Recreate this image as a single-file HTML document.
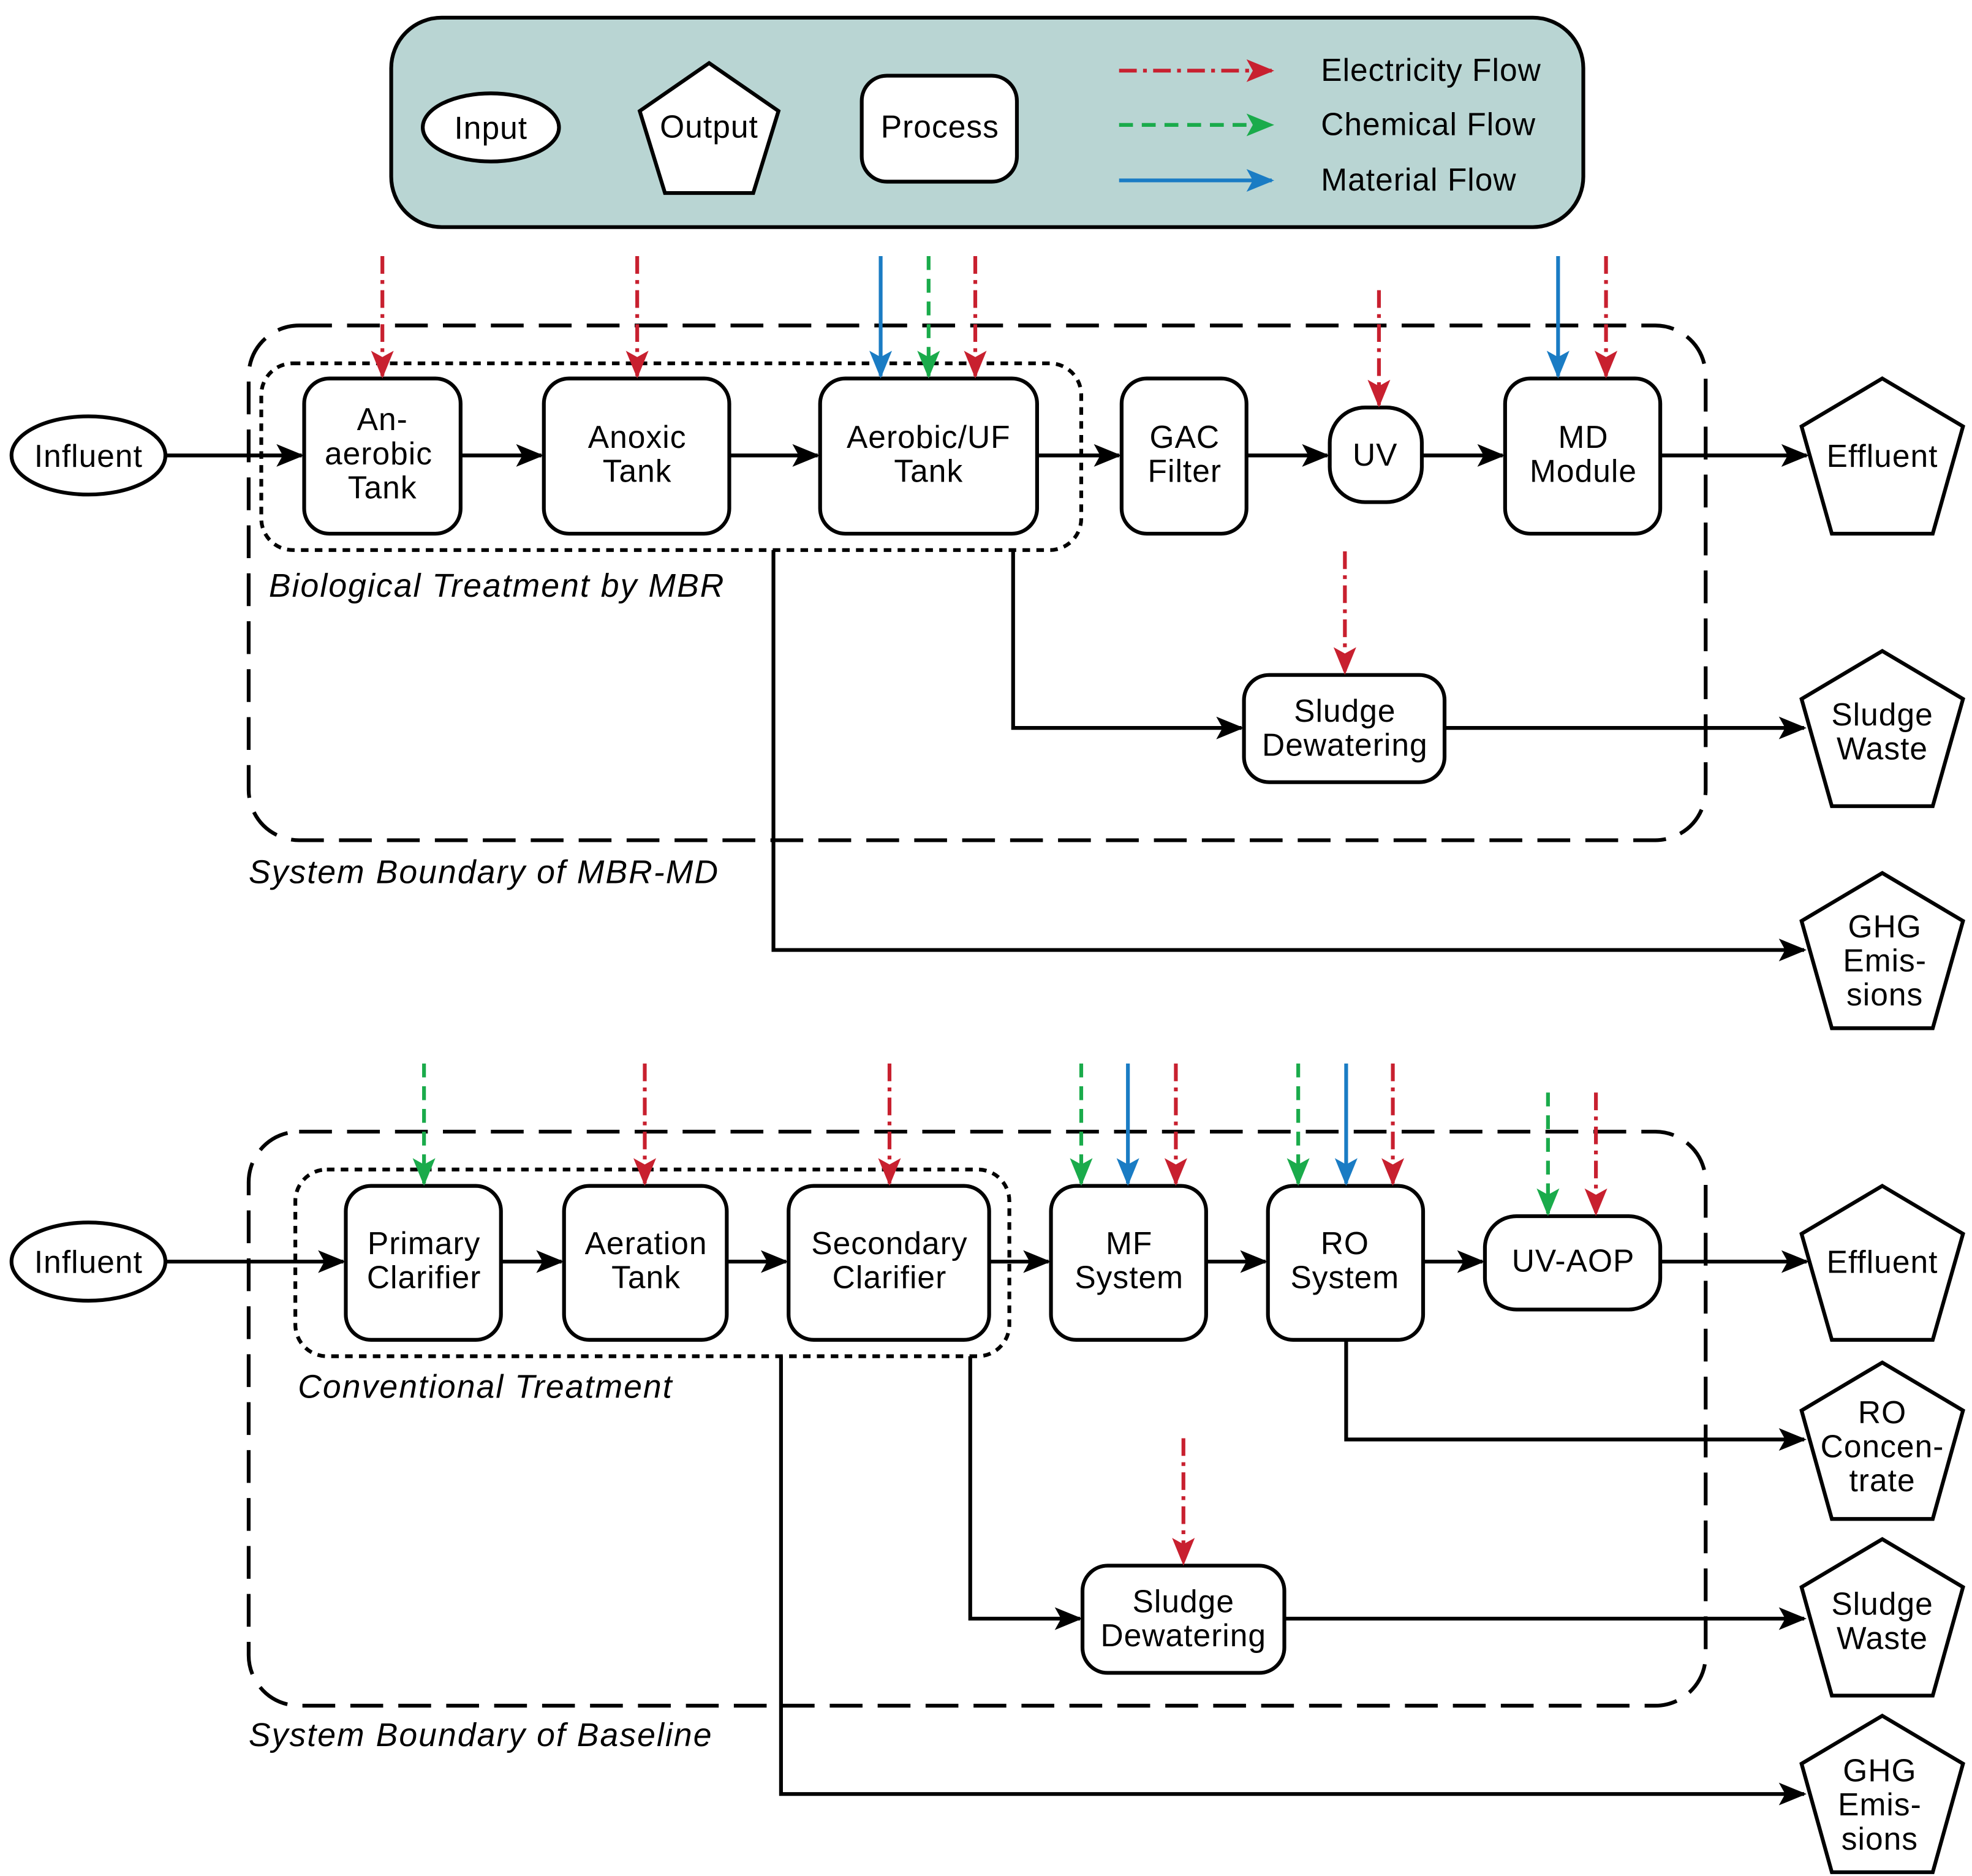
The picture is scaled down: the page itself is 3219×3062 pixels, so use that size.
<!DOCTYPE html>
<html><head><meta charset="utf-8"><style>html,body{margin:0;padding:0;background:#fff}svg{display:block}</style></head>
<body>
<svg xmlns="http://www.w3.org/2000/svg" width="3219" height="3062" viewBox="0 0 1563 1487" font-family="'Liberation Sans', Arial, sans-serif" font-size="25">
<defs>
<marker id="ak" markerUnits="userSpaceOnUse" markerWidth="24" markerHeight="20" refX="20" refY="9" orient="auto"><path d="M0,0 L22,9 L0,18 L5,9 Z" fill="#000"/></marker>
<marker id="ar" markerUnits="userSpaceOnUse" markerWidth="24" markerHeight="20" refX="20" refY="9" orient="auto"><path d="M0,0 L22,9 L0,18 L5,9 Z" fill="#c8202f"/></marker>
<marker id="ag" markerUnits="userSpaceOnUse" markerWidth="24" markerHeight="20" refX="20" refY="9" orient="auto"><path d="M0,0 L22,9 L0,18 L5,9 Z" fill="#1aab4b"/></marker>
<marker id="ab" markerUnits="userSpaceOnUse" markerWidth="24" markerHeight="20" refX="20" refY="9" orient="auto"><path d="M0,0 L22,9 L0,18 L5,9 Z" fill="#1a7cc4"/></marker>
</defs>
<style>
.bx{fill:#fff;stroke:#000;stroke-width:3}
.ln{fill:none;stroke:#000;stroke-width:3;marker-end:url(#ak)}
.r{stroke:#c8202f;stroke-width:3;stroke-dasharray:14,5,3,5;marker-end:url(#ar)}
.g{stroke:#1aab4b;stroke-width:3;stroke-dasharray:11,7;marker-end:url(#ag)}
.b{stroke:#1a7cc4;stroke-width:3;marker-end:url(#ab)}
.ob{fill:none;stroke:#000;stroke-width:3;stroke-dasharray:26,12}
.ib{fill:none;stroke:#000;stroke-width:3;stroke-dasharray:6,5}
text{text-anchor:middle;letter-spacing:0.5px}
.it{font-style:italic;text-anchor:start;font-size:26px;letter-spacing:1px}
</style>

<rect x="310" y="14" width="945" height="166" rx="40" fill="#b9d5d3" stroke="#000" stroke-width="3"/>
<ellipse cx="389" cy="101" rx="54" ry="27" class="bx"/><text x="389" y="110">Input</text>
<polygon points="562,50 617,88 597,153 527,153 507,88" class="bx"/><text x="562" y="109">Output</text>
<rect x="683" y="60" width="123" height="84" rx="20" class="bx"/><text x="745" y="109">Process</text>
<line x1="887" y1="56" x2="1008" y2="56" class="r"/>
<line x1="887" y1="99" x2="1008" y2="99" class="g"/>
<line x1="887" y1="143" x2="1008" y2="143" class="b"/>
<text x="1047" y="64" style="text-anchor:start">Electricity Flow</text>
<text x="1047" y="107" style="text-anchor:start">Chemical Flow</text>
<text x="1047" y="151" style="text-anchor:start">Material Flow</text>

<rect x="197" y="258" width="1155" height="408" rx="40" class="ob"/>
<rect x="207" y="288" width="650" height="148" rx="25" class="ib"/>
<text x="213" y="473" class="it">Biological Treatment by MBR</text>
<text x="197" y="700" class="it">System Boundary of MBR-MD</text>

<polyline points="613,436 613,753 1430,753" class="ln"/>
<polyline points="803,436 803,577 984,577" class="ln"/>
<line x1="1145" y1="577" x2="1430" y2="577" class="ln"/>
<line x1="131" y1="361" x2="239" y2="361" class="ln"/>
<line x1="365" y1="361" x2="429" y2="361" class="ln"/>
<line x1="578" y1="361" x2="648" y2="361" class="ln"/>
<line x1="822" y1="361" x2="887" y2="361" class="ln"/>
<line x1="988" y1="361" x2="1052" y2="361" class="ln"/>
<line x1="1127" y1="361" x2="1191" y2="361" class="ln"/>
<line x1="1316" y1="361" x2="1432" y2="361" class="ln"/>

<ellipse cx="70" cy="361" rx="61" ry="31" class="bx"/><text x="70" y="370">Influent</text>
<rect x="241" y="300" width="124" height="123" rx="20" class="bx"/><text x="303" y="341">An-</text><text x="300" y="368">aerobic</text><text x="303" y="395">Tank</text>
<rect x="431" y="300" width="147" height="123" rx="20" class="bx"/><text x="505" y="355">Anoxic</text><text x="505" y="382">Tank</text>
<rect x="650" y="300" width="172" height="123" rx="20" class="bx"/><text x="736" y="355">Aerobic/UF</text><text x="736" y="382">Tank</text>
<rect x="889" y="300" width="99" height="123" rx="20" class="bx"/><text x="939" y="355">GAC</text><text x="939" y="382">Filter</text>
<rect x="1054" y="323" width="73" height="75" rx="28" class="bx"/><text x="1090" y="369">UV</text>
<rect x="1193" y="300" width="123" height="123" rx="20" class="bx"/><text x="1255" y="355">MD</text><text x="1255" y="382">Module</text>
<rect x="986" y="535" width="159" height="85" rx="20" class="bx"/><text x="1066" y="572">Sludge</text><text x="1066" y="599">Dewatering</text>
<polygon points="1492,300 1556,338 1532,423 1452,423 1428,338" class="bx"/><text x="1492" y="370">Effluent</text>
<polygon points="1492,516 1556,554 1532,639 1452,639 1428,554" class="bx"/><text x="1492" y="575">Sludge</text><text x="1492" y="602">Waste</text>
<polygon points="1492,692 1556,730 1532,815 1452,815 1428,730" class="bx"/><text x="1494" y="743">GHG</text><text x="1494" y="770">Emis-</text><text x="1494" y="797">sions</text>

<line x1="303" y1="203" x2="303" y2="298" class="r"/>
<line x1="505" y1="203" x2="505" y2="298" class="r"/>
<line x1="698" y1="203" x2="698" y2="298" class="b"/>
<line x1="736" y1="203" x2="736" y2="298" class="g"/>
<line x1="773" y1="203" x2="773" y2="298" class="r"/>
<line x1="1093" y1="230" x2="1093" y2="321" class="r"/>
<line x1="1235" y1="203" x2="1235" y2="298" class="b"/>
<line x1="1273" y1="203" x2="1273" y2="298" class="r"/>
<line x1="1066" y1="437" x2="1066" y2="533" class="r"/>

<rect x="197" y="897" width="1155" height="455" rx="40" class="ob"/>
<rect x="234" y="927" width="566" height="148" rx="25" class="ib"/>
<text x="236" y="1108" class="it">Conventional Treatment</text>
<text x="197" y="1384" class="it">System Boundary of Baseline</text>

<polyline points="619,1075 619,1422 1430,1422" class="ln"/>
<polyline points="769,1075 769,1283 856,1283" class="ln"/>
<line x1="1018" y1="1283" x2="1430" y2="1283" class="ln"/>
<polyline points="1067,1062 1067,1141 1430,1141" class="ln"/>
<line x1="131" y1="1000" x2="272" y2="1000" class="ln"/>
<line x1="397" y1="1000" x2="445" y2="1000" class="ln"/>
<line x1="576" y1="1000" x2="623" y2="1000" class="ln"/>
<line x1="784" y1="1000" x2="831" y2="1000" class="ln"/>
<line x1="956" y1="1000" x2="1003" y2="1000" class="ln"/>
<line x1="1128" y1="1000" x2="1175" y2="1000" class="ln"/>
<line x1="1316" y1="1000" x2="1432" y2="1000" class="ln"/>

<ellipse cx="70" cy="1000" rx="61" ry="31" class="bx"/><text x="70" y="1009">Influent</text>
<rect x="274" y="940" width="123" height="122" rx="20" class="bx"/><text x="336" y="994">Primary</text><text x="336" y="1021">Clarifier</text>
<rect x="447" y="940" width="129" height="122" rx="20" class="bx"/><text x="512" y="994">Aeration</text><text x="512" y="1021">Tank</text>
<rect x="625" y="940" width="159" height="122" rx="20" class="bx"/><text x="705" y="994">Secondary</text><text x="705" y="1021">Clarifier</text>
<rect x="833" y="940" width="123" height="122" rx="20" class="bx"/><text x="895" y="994">MF</text><text x="895" y="1021">System</text>
<rect x="1005" y="940" width="123" height="122" rx="20" class="bx"/><text x="1066" y="994">RO</text><text x="1066" y="1021">System</text>
<rect x="1177" y="964" width="139" height="74" rx="25" class="bx"/><text x="1247" y="1008">UV-AOP</text>
<rect x="858" y="1241" width="160" height="85" rx="20" class="bx"/><text x="938" y="1278">Sludge</text><text x="938" y="1305">Dewatering</text>
<polygon points="1492,940 1556,978 1532,1062 1452,1062 1428,978" class="bx"/><text x="1492" y="1009">Effluent</text>
<polygon points="1492,1080 1556,1118 1532,1204 1452,1204 1428,1118" class="bx"/><text x="1492" y="1128">RO</text><text x="1492" y="1155">Concen-</text><text x="1492" y="1182">trate</text>
<polygon points="1492,1220 1556,1258 1532,1344 1452,1344 1428,1258" class="bx"/><text x="1492" y="1280">Sludge</text><text x="1492" y="1307">Waste</text>
<polygon points="1492,1360 1556,1398 1532,1484 1452,1484 1428,1398" class="bx"/><text x="1490" y="1412">GHG</text><text x="1490" y="1439">Emis-</text><text x="1490" y="1466">sions</text>

<line x1="336" y1="843" x2="336" y2="938" class="g"/>
<line x1="511" y1="843" x2="511" y2="938" class="r"/>
<line x1="705" y1="843" x2="705" y2="938" class="r"/>
<line x1="857" y1="843" x2="857" y2="938" class="g"/>
<line x1="894" y1="843" x2="894" y2="938" class="b"/>
<line x1="932" y1="843" x2="932" y2="938" class="r"/>
<line x1="1029" y1="843" x2="1029" y2="938" class="g"/>
<line x1="1067" y1="843" x2="1067" y2="938" class="b"/>
<line x1="1104" y1="843" x2="1104" y2="938" class="r"/>
<line x1="1227" y1="866" x2="1227" y2="962" class="g"/>
<line x1="1265" y1="866" x2="1265" y2="962" class="r"/>
<line x1="938" y1="1140" x2="938" y2="1239" class="r"/>
</svg>
</body></html>
